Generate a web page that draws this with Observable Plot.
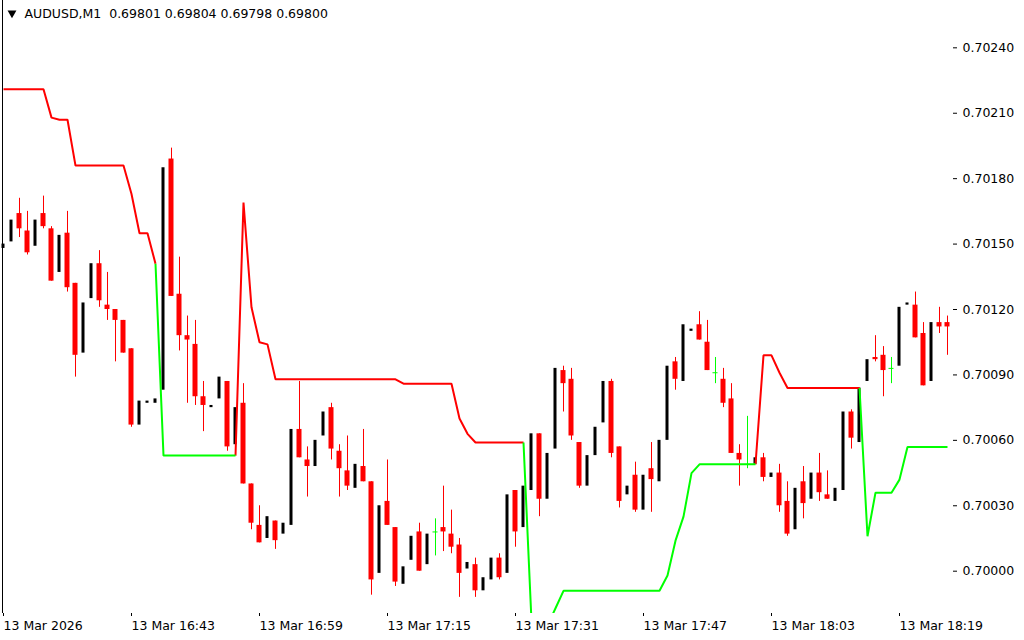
<!DOCTYPE html>
<html><head><meta charset="utf-8">
<script src="https://cdn.jsdelivr.net/npm/d3@7"></script>
<script src="https://cdn.jsdelivr.net/npm/@observablehq/plot@0.6"></script>
<style>html,body{margin:0;padding:0;background:#fff;overflow:hidden}</style>
</head><body><div id="chart"></div>
<script>
// AUDUSD M1 candles, 13 Mar 2026 16:27 .. 18:25 (index k = minute offset)
const opens = [0.70148,0.70151,0.70164,0.70156,0.70149,0.70164,0.70157,0.70137,0.70155,0.70132,
0.70100,0.70125,0.70141,0.70122,0.70120,0.70115,0.70102,0.70067,0.70077,0.70077,
0.70083,0.70189,0.70127,0.70108,0.70104,0.70080,0.70075,0.70079,0.70087,0.70058,
0.70077,0.70040,0.70021,0.70015,0.70023,0.70017,0.70021,0.70065,0.70051,0.70048,
0.70062,0.70075,0.70055,0.70046,0.70038,0.70048,0.70041,0.69999,0.70032,0.70020,
0.69994,0.70005,0.70018,0.70003,0.70018,0.70020,0.70017,0.70012,0.70001,0.70003,
0.69991,0.69996,0.70006,0.69999,0.70037,0.70020,0.70037,0.70063,0.70033,0.70056,
0.70092,0.70088,0.70059,0.70039,0.70053,0.70068,0.70087,0.70057,0.70035,0.70044,
0.70028,0.70047,0.70041,0.70060,0.70096,0.70087,0.70110,0.70113,0.70105,0.70091,
0.70088,0.70079,0.70054,0.70049,0.70049,0.70052,0.70043,0.70045,0.70032,0.70019,
0.70041,0.70033,0.70045,0.70035,0.70032,0.70037,0.70073,0.70059,0.70087,0.70098,
0.70099,0.70093,0.70094,0.70122,0.70122,0.70109,0.70087,0.70114,0.70114];
const highs = [0.70150,0.70161,0.70171,0.70165,0.70161,0.70172,0.70158,0.70154,0.70165,0.70132,
0.70123,0.70141,0.70147,0.70137,0.70120,0.70115,0.70102,0.70078,0.70078,0.70079,
0.70185,0.70194,0.70144,0.70117,0.70115,0.70087,0.70076,0.70089,0.70087,0.70075,
0.70086,0.70040,0.70030,0.70025,0.70023,0.70022,0.70065,0.70087,0.70057,0.70060,
0.70073,0.70077,0.70058,0.70062,0.70049,0.70065,0.70041,0.70030,0.70051,0.70020,
0.70002,0.70016,0.70022,0.70017,0.70024,0.70039,0.70028,0.70015,0.70004,0.70006,
0.69997,0.70006,0.70008,0.70035,0.70037,0.70039,0.70063,0.70063,0.70054,0.70093,
0.70094,0.70093,0.70059,0.70053,0.70066,0.70087,0.70088,0.70057,0.70039,0.70050,
0.70044,0.70059,0.70060,0.70094,0.70098,0.70113,0.70111,0.70119,0.70115,0.70098,
0.70093,0.70086,0.70058,0.70071,0.70052,0.70054,0.70045,0.70049,0.70041,0.70038,
0.70048,0.70045,0.70054,0.70046,0.70038,0.70073,0.70074,0.70084,0.70097,0.70108,
0.70103,0.70098,0.70121,0.70123,0.70128,0.70114,0.70114,0.70121,0.70117];
const lows = [0.70148,0.70151,0.70153,0.70145,0.70149,0.70157,0.70133,0.70137,0.70128,0.70089,
0.70100,0.70125,0.70121,0.70115,0.70096,0.70100,0.70066,0.70067,0.70077,0.70077,
0.70083,0.70126,0.70101,0.70077,0.70076,0.70064,0.70075,0.70079,0.70055,0.70058,
0.70040,0.70019,0.70013,0.70015,0.70010,0.70017,0.70021,0.70052,0.70034,0.70048,
0.70062,0.70051,0.70034,0.70037,0.70038,0.70041,0.69989,0.69999,0.70021,0.69993,
0.69994,0.70005,0.70000,0.70003,0.70007,0.70009,0.70008,0.69988,0.70001,0.69988,
0.69991,0.69996,0.69996,0.69999,0.70011,0.70020,0.70037,0.70025,0.70033,0.70056,
0.70073,0.70060,0.70038,0.70039,0.70053,0.70068,0.70052,0.70029,0.70035,0.70027,
0.70028,0.70027,0.70041,0.70060,0.70083,0.70087,0.70110,0.70106,0.70092,0.70086,
0.70075,0.70054,0.70039,0.70047,0.70049,0.70041,0.70043,0.70027,0.70016,0.70019,
0.70024,0.70033,0.70032,0.70033,0.70032,0.70037,0.70056,0.70059,0.70087,0.70096,
0.70080,0.70086,0.70094,0.70122,0.70107,0.70085,0.70087,0.70109,0.70099];
const closes = [0.70150,0.70161,0.70157,0.70146,0.70161,0.70158,0.70133,0.70154,0.70130,0.70099,
0.70123,0.70141,0.70124,0.70120,0.70115,0.70100,0.70067,0.70078,0.70078,0.70079,
0.70185,0.70126,0.70108,0.70106,0.70080,0.70076,0.70076,0.70089,0.70057,0.70075,
0.70040,0.70022,0.70013,0.70025,0.70014,0.70022,0.70065,0.70052,0.70048,0.70060,
0.70073,0.70056,0.70047,0.70039,0.70049,0.70041,0.69996,0.70030,0.70021,0.69995,
0.70002,0.70016,0.70000,0.70017,0.70018,0.70018,0.70011,0.69999,0.70004,0.69991,
0.69997,0.70006,0.69997,0.70035,0.70018,0.70039,0.70063,0.70033,0.70054,0.70093,
0.70086,0.70062,0.70039,0.70053,0.70066,0.70087,0.70054,0.70032,0.70039,0.70028,
0.70044,0.70042,0.70060,0.70094,0.70088,0.70113,0.70111,0.70106,0.70092,0.70091,
0.70077,0.70054,0.70051,0.70049,0.70052,0.70043,0.70045,0.70030,0.70017,0.70038,
0.70031,0.70045,0.70036,0.70033,0.70038,0.70073,0.70061,0.70084,0.70097,0.70097,
0.70092,0.70093,0.70121,0.70123,0.70107,0.70085,0.70114,0.70112,0.70112];

// trend line: red above price (down trend), green below price (up trend)
const redLine = [0.70221,0.70221,0.70221,0.70221,0.70221,0.70221,0.70208,0.70207,0.70207,0.70186,
0.70186,0.70186,0.70186,0.70186,0.70186,0.70186,0.70173,0.70155,0.70155,0.70141,
null,null,null,null,null,null,null,null,null,0.70053,
0.70169,0.70121,0.70105,0.70104,0.70088,0.70088,0.70088,0.70088,0.70088,0.70088,
0.70088,0.70088,0.70088,0.70088,0.70088,0.70088,0.70088,0.70088,0.70088,0.70088,
0.70086,0.70086,0.70086,0.70086,0.70086,0.70086,0.70086,0.70070,0.70063,0.70059,
0.70059,0.70059,0.70059,0.70059,0.70059,0.70059,null,null,null,null,
null,null,null,null,null,null,null,null,null,null,
null,null,null,null,null,null,null,null,null,null,
null,null,null,null,0.70049,0.70099,0.70099,0.70091,0.70084,0.70084,
0.70084,0.70084,0.70084,0.70084,0.70084,0.70084,0.70084,0.70084,null,null,
null,null,null,null,null,null,null,null,null];
const greenLine = [null,null,null,null,null,null,null,null,null,null,
null,null,null,null,null,null,null,null,null,0.70141,
0.70053,0.70053,0.70053,0.70053,0.70053,0.70053,0.70053,0.70053,0.70053,0.70053,
null,null,null,null,null,null,null,null,null,null,
null,null,null,null,null,null,null,null,null,null,
null,null,null,null,null,null,null,null,null,null,
null,null,null,null,null,0.70059,0.69977,0.69975,0.69975,0.69983,
0.69991,0.69991,0.69991,0.69991,0.69991,0.69991,0.69991,0.69991,0.69991,0.69991,
0.69991,0.69991,0.69991,0.69998,0.70014,0.70025,0.70045,0.70049,0.70049,0.70049,
0.70049,0.70049,0.70049,0.70049,0.70049,null,null,null,null,null,
null,null,null,null,null,null,null,0.70084,0.70016,0.70036,
0.70036,0.70036,0.70042,0.70057,0.70057,0.70057,0.70057,0.70057,0.70057];

const xTicks = [0, 16, 32, 48, 64, 80, 96, 112];
const xTickLabels = ["13 Mar 2026","13 Mar 16:43","13 Mar 16:59","13 Mar 17:15","13 Mar 17:31","13 Mar 17:47","13 Mar 18:03","13 Mar 18:19"];
const yTicks = [0.70000,0.70030,0.70060,0.70090,0.70120,0.70150,0.70180,0.70210,0.70240];
const xDomain = [-0.125, 118.625];
const yDomain = [0.699806, 0.702617];
const title = "AUDUSD,M1\u00a0 0.69801 0.69804 0.69798 0.69800";

const candles = opens.map((o, i) => ({k: i, open: o, high: highs[i], low: lows[i], close: closes[i]}));
const bulls = candles.filter(d => d.close > d.open);
const bears = candles.filter(d => d.close < d.open);
const dojis = candles.filter(d => d.close === d.open);
const lineRows = redLine.map((r, i) => ({k: i, red: r, green: greenLine[i]}));

const chart = Plot.plot({
  width: 1024, height: 640,
  marginLeft: 2, marginRight: 72, marginTop: 0, marginBottom: 27,
  style: {fontFamily: "DejaVu Sans", fontSize: "12.5px", background: "#fff", color: "#000"},
  x: {type: "linear", domain: xDomain, axis: null, label: null},
  y: {type: "linear", domain: yDomain, axis: null, label: null},
  marks: [
    Plot.ruleX(bears, {x: "k", y1: "low", y2: "high", stroke: "#ff0000", strokeWidth: 1}),
    Plot.rect(bears, {x1: d => d.k - 0.3125, x2: d => d.k + 0.3125, y1: "open", y2: "close", fill: "#ff0000"}),
    Plot.rect(bulls, {x1: d => d.k - 0.1875, x2: d => d.k + 0.1875, y1: "open", y2: "close", fill: "#000"}),
    Plot.ruleX(dojis, {x: "k", y1: "low", y2: "high", stroke: "#00ff00", strokeWidth: 1}),
    Plot.ruleY(dojis, {y: "open", x1: d => d.k - 0.3125, x2: d => d.k + 0.3125, stroke: "#00ff00", strokeWidth: 1}),
    Plot.line(lineRows, {x: "k", y: "red", stroke: "#ff0000", strokeWidth: 2, clip: true, strokeLinejoin: "miter", strokeLinecap: "butt"}),
    Plot.line(lineRows, {x: "k", y: "green", stroke: "#00ff00", strokeWidth: 2, clip: true, strokeLinejoin: "miter", strokeLinecap: "butt"}),
    Plot.ruleX([xDomain[0]], {stroke: "#000"}),
    Plot.axisY(yTicks, {anchor: "right", label: null, tickSize: 4, tickPadding: 6, tickFormat: d => d.toFixed(5), line: true, stroke: "#000", fill: "#000"}),
    Plot.axisX(xTicks, {anchor: "bottom", label: null, tickSize: 3, tickPadding: 5, tickFormat: d => xTickLabels[xTicks.indexOf(d)], textAnchor: "start", line: true, stroke: "#000", fill: "#000"}),
    Plot.dot([title], {frameAnchor: "top-left", dx: 9.5, dy: 12.5, symbol: "triangle", rotate: 180, r: 3.3, fill: "#000", stroke: null}),
    Plot.text([title], {text: d => d, frameAnchor: "top-left", dx: 22, dy: 9, lineAnchor: "top", textAnchor: "start", fill: "#000"})
  ]
});
document.getElementById("chart").appendChild(chart);
</script>
</body></html>
